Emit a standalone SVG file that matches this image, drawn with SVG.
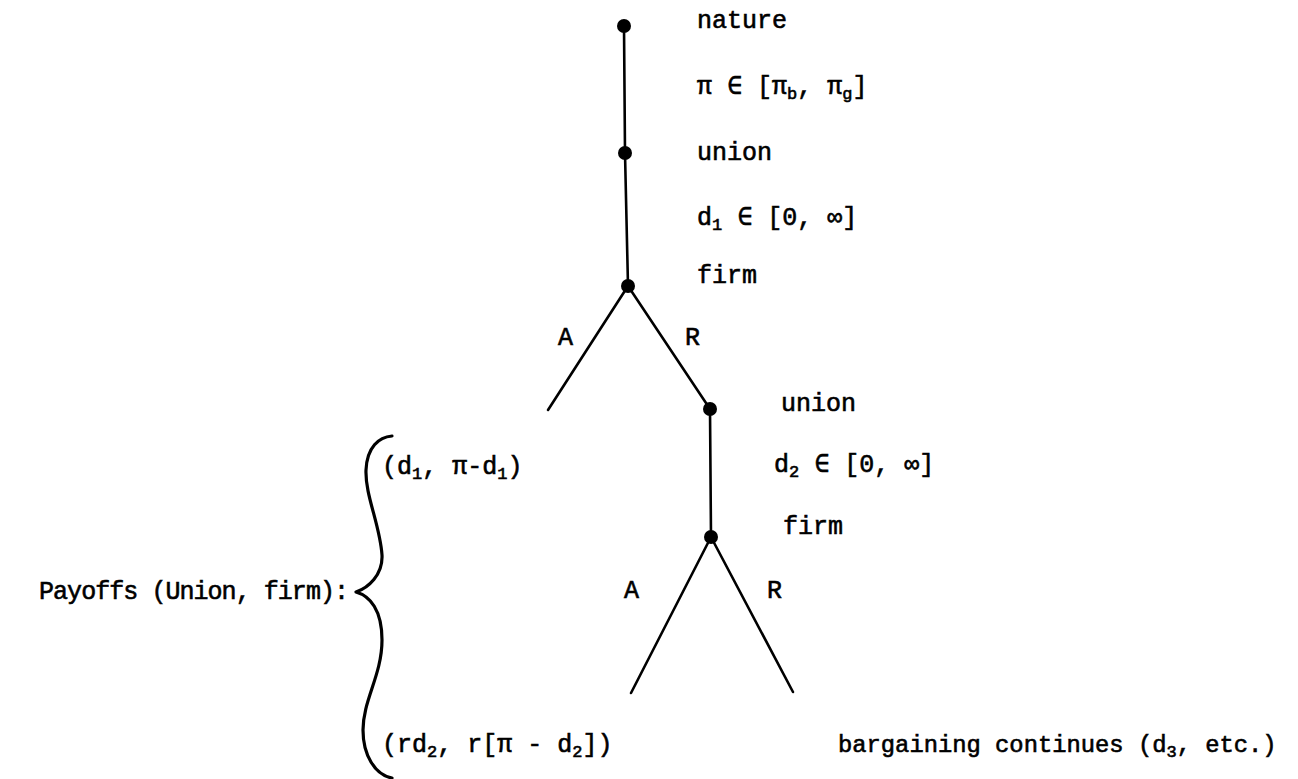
<svg xmlns="http://www.w3.org/2000/svg" width="1298" height="779" viewBox="0 0 1298 779">
<style>
text{font-family:"Liberation Mono","Courier New",monospace;font-size:25px;fill:#000;stroke:#000;stroke-width:0.6}
.sub{font-size:17px}
.small{font-size:23.8px}
.edge{stroke:#000;stroke-width:2.6;fill:none;stroke-linecap:round}
.brace{stroke:#000;stroke-width:3.2;fill:none;stroke-linecap:round;stroke-linejoin:round}
.dot{fill:#000}
</style>
<rect width="1298" height="779" fill="#fff"/>
<g id="connectors">
<line class="edge" x1="624" y1="26" x2="625" y2="153"/>
<line class="edge" x1="625" y1="153" x2="628" y2="286"/>
<line class="edge" x1="628" y1="286" x2="548" y2="410"/>
<line class="edge" x1="628" y1="286" x2="710" y2="409"/>
<line class="edge" x1="710" y1="409" x2="711" y2="537"/>
<line class="edge" x1="711" y1="537" x2="631" y2="693"/>
<line class="edge" x1="711" y1="537" x2="793" y2="692"/>
<text x="558" y="345">A</text>
<text x="685" y="345">R</text>
<text x="624" y="598">A</text>
<text x="767" y="598">R</text>
</g>
<g id="nature">
<circle class="dot" cx="624" cy="26" r="7"/>
<text x="697" y="28">nature</text>
<text x="697" y="94">π ∈ [π<tspan class="sub" dy="5">b</tspan><tspan dy="-5">, π</tspan><tspan class="sub" dy="5">g</tspan><tspan dy="-5">]</tspan></text>
</g>
<g id="union1">
<circle class="dot" cx="625" cy="153" r="7"/>
<text x="697" y="160">union</text>
<text x="697" y="225">d<tspan class="sub" dy="5">1</tspan><tspan dy="-5"> ∈ [0, ∞]</tspan></text>
</g>
<g id="firm1">
<circle class="dot" cx="628" cy="286" r="7"/>
<text x="697" y="283">firm</text>
</g>
<g id="union2">
<circle class="dot" cx="710" cy="409" r="7"/>
<text x="781" y="411">union</text>
<text x="774" y="472">d<tspan class="sub" dy="5">2</tspan><tspan dy="-5"> ∈ [0, ∞]</tspan></text>
</g>
<g id="firm2">
<circle class="dot" cx="711" cy="537" r="7"/>
<text x="783" y="534">firm</text>
</g>
<g id="payoffs">
<text x="39" y="599" textLength="310" lengthAdjust="spacing">Payoffs (Union, firm):</text>
<path class="brace" d="M392 436 C379 437 367 447 366 470 C365 495 380 525 382 555 C383 575 368 588 356 592 C370 596 382 610 382 640 C382 675 363 700 363 730 C363 755 375 775 392 778"/>
<text x="382" y="474">(d<tspan class="sub" dy="5">1</tspan><tspan dy="-5">, π-d</tspan><tspan class="sub" dy="5">1</tspan><tspan dy="-5">)</tspan></text>
<text x="382" y="752">(rd<tspan class="sub" dy="5">2</tspan><tspan dy="-5">, r[π - d</tspan><tspan class="sub" dy="5">2</tspan><tspan dy="-5">])</tspan></text>
</g>
<g id="continues">
<text class="small" x="838" y="752">bargaining continues (d<tspan class="sub" dy="5">3</tspan><tspan dy="-5">, etc.)</tspan></text>
</g>
</svg>
